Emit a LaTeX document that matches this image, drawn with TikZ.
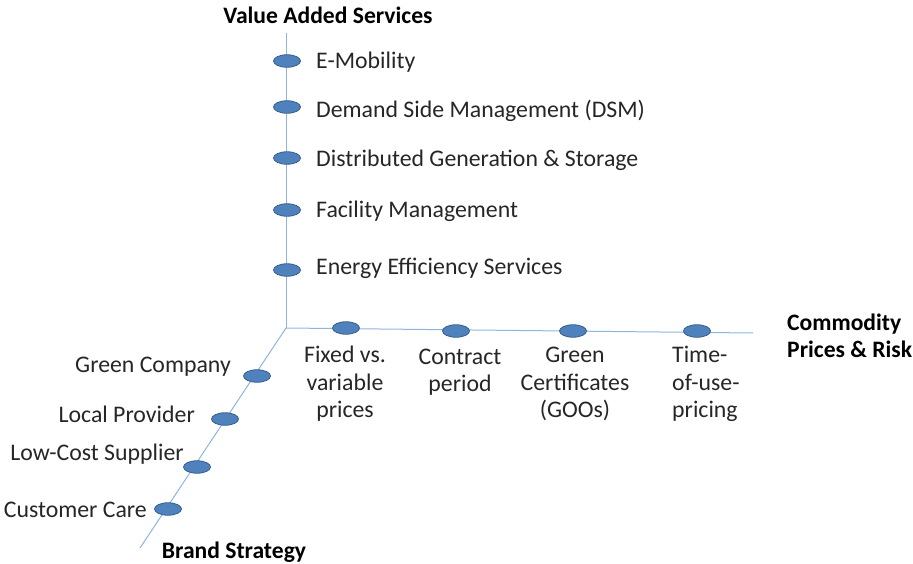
\documentclass[tikz,border=0pt]{standalone}
\usepackage{fontspec}
\setmainfont{Carlito}
\usetikzlibrary{shapes.geometric}
\definecolor{axiscol}{HTML}{8EB4E3}
\definecolor{dotfill}{HTML}{4F81BD}
\definecolor{dotdraw}{HTML}{385D8A}
\definecolor{txtcol}{HTML}{262626}
\tikzset{
  axisline/.style={draw=axiscol, line width=1pt},
  dot/.style={ellipse, fill=dotfill, draw=dotdraw, line width=0.8pt, minimum width=27pt, minimum height=12.5pt, inner sep=0pt},
  lbl/.style={inner sep=0pt, text=txtcol, font=\fontsize{23.8}{27.5}\selectfont},
  ttl/.style={inner sep=0pt, text=black, font=\fontsize{23.6}{27}\selectfont\bfseries},
}
\begin{document}
\begin{tikzpicture}[x=1pt,y=-1pt]
\useasboundingbox (0,0) rectangle (913,564);
\coordinate (O) at (286,328);
\coordinate (vtop) at (286,33);
\coordinate (hend) at (753,333);
\coordinate (dend) at (140,548);
\draw[axisline] (vtop) -- (O);
\draw[axisline] (O) -- (hend);
\draw[axisline] (O) -- (dend);
% vertical markers
\node[dot] (v1) at (287,61) {};
\node[dot] (v2) at (287,107) {};
\node[dot] (v3) at (287,158) {};
\node[dot] (v4) at (287,210) {};
\node[dot] (v5) at (287,270) {};
% horizontal markers
\node[dot] (h1) at (346,328) {};
\node[dot] (h2) at (456,331) {};
\node[dot] (h3) at (573,331) {};
\node[dot] (h4) at (697,331) {};
% diagonal markers
\node[dot] (d1) at (257,376) {};
\node[dot] (d2) at (225,419) {};
\node[dot] (d3) at (197,467) {};
\node[dot] (d4) at (168,509) {};
% titles
\node[ttl] (tv) at (328,15) {Value Added Services};
\node[ttl, align=left, anchor=west] (tc) at (787,336) {Commodity\\Prices \& Risk};
\node[ttl] (tb) at (234,552) {Brand Strategy};
% vertical labels
\node[lbl, anchor=west] (lv1) at (316,62) {E-Mobility};
\node[lbl, anchor=west] (lv2) at (316,111) {Demand Side Management (DSM)};
\node[lbl, anchor=west] (lv3) at (316,160) {Distributed Generation \& Storage};
\node[lbl, anchor=west] (lv4) at (316,211) {Facility Management};
\node[lbl, anchor=west] (lv5) at (316,268) {Energy Efficiency Services};
% horizontal labels
\node[lbl, align=center] (lh1) at (345,384) {Fixed vs.\\variable\\prices};
\node[lbl, align=center] (lh2) at (460,372) {Contract\\period};
\node[lbl, align=center] (lh3) at (575,384) {Green\\Certificates\\(GOOs)};
\node[lbl, align=left, anchor=west] (lh4) at (672,384) {Time-\\of-use-\\pricing};
% diagonal labels
\node[lbl, anchor=east] (ld1) at (231,367) {Green Company};
\node[lbl, anchor=east] (ld2) at (195,414) {Local Provider};
\node[lbl, anchor=east] (ld3) at (184,454) {Low-Cost Supplier};
\node[lbl, anchor=east] (ld4) at (147,510) {Customer Care};
\end{tikzpicture}
\end{document}
